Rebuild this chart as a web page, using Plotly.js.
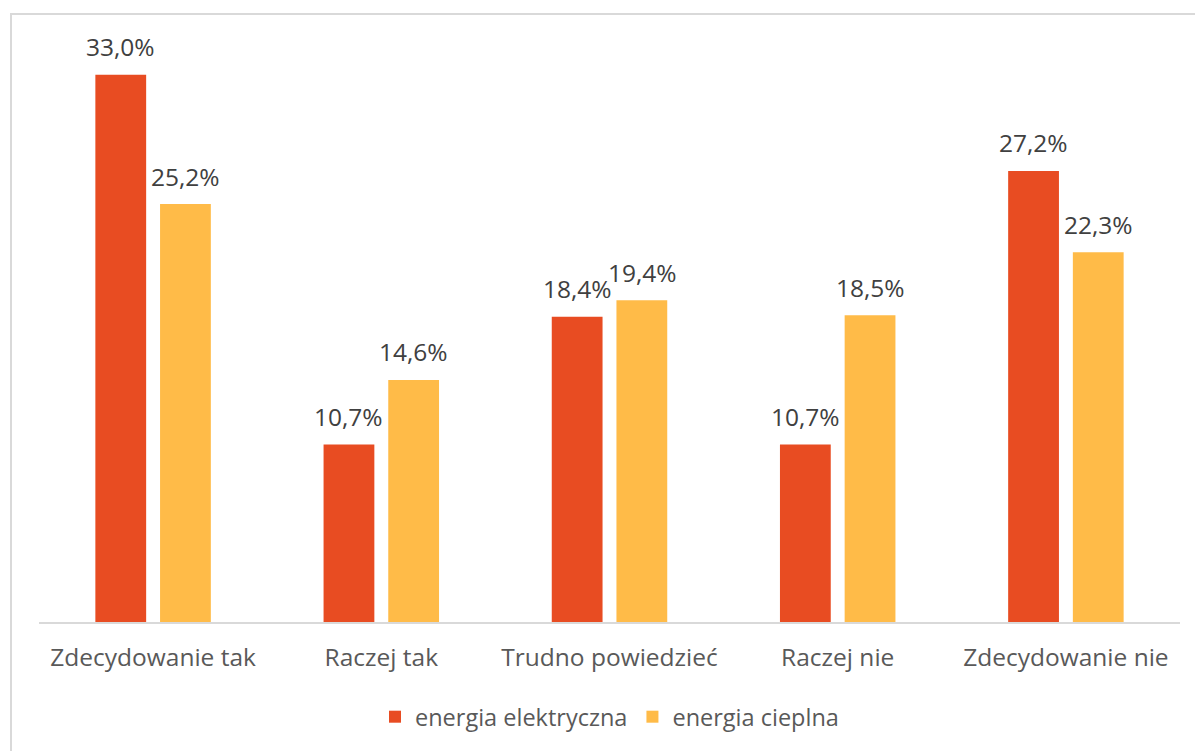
<!DOCTYPE html>
<html><head><meta charset="utf-8">
<script src="https://cdn.plot.ly/plotly-3.0.1.min.js"></script>
<style>
html,body{margin:0;padding:0;background:#fff;overflow:hidden;}
#frame{position:absolute;left:10px;top:13px;width:1200px;height:760px;border:2px solid #d9d9d9;box-sizing:border-box;}
#chart{position:absolute;left:0;top:0;width:1195px;height:751px;}
</style></head>
<body>
<div id="frame"></div>
<div id="chart"></div>
<script>
const categories = ["Zdecydowanie tak", "Raczej tak", "Trudno powiedzieć", "Raczej nie", "Zdecydowanie nie"];
const elektryczna = [33.0, 10.7, 18.4, 10.7, 27.2];
const cieplna = [25.2, 14.6, 19.4, 18.5, 22.3];
const seriesNames = ["energia elektryczna", "energia cieplna"];
const colors = ["#E84C22", "#FFBB48"];

const fmt = v => v.toFixed(1).replace('.', ',') + '%';
const FONT = "Open Sans, sans-serif";

const traces = [elektryczna, cieplna].map((vals, i) => ({
  type: 'bar', x: categories, y: vals, name: seriesNames[i],
  marker: {color: colors[i]}, hoverinfo: 'skip'
}));

const annotations = [];
[elektryczna, cieplna].forEach((vals, i) => {
  vals.forEach((v, j) => {
    annotations.push({
      x: categories[j], y: v, xref: 'x', yref: 'y',
      text: fmt(v), showarrow: false,
      xshift: i === 0 ? -32.5 : 32.5, yshift: 28, yanchor: 'middle',
      font: {family: FONT, size: 24.5, color: '#404040'}
    });
  });
});

const layout = {
  width: 1195, height: 751,
  margin: {l: 39, r: 15, t: 25, b: 129},
  paper_bgcolor: 'rgba(0,0,0,0)', plot_bgcolor: 'rgba(0,0,0,0)',
  barmode: 'group', bargap: 0.433, bargroupgap: 0.215,
  showlegend: true,
  legend: {orientation: 'h', x: 0.5, xanchor: 'center', y: -0.159, yanchor: 'middle',
           font: {family: FONT, size: 23.5, color: '#595959'}, itemwidth: 30, traceorder: 'normal'},
  xaxis: {type: 'category', showline: true, linecolor: '#d9d9d9', linewidth: 2,
          ticks: '', tickfont: {family: FONT, size: 24.5, color: '#595959'}, ticklabelstandoff: 13,
          fixedrange: true},
  yaxis: {range: [0, 36], visible: false, showgrid: false, zeroline: false, fixedrange: true},
  annotations: annotations
};

Plotly.newPlot('chart', traces, layout, {displayModeBar: false, staticPlot: true});
</script>
</body></html>
